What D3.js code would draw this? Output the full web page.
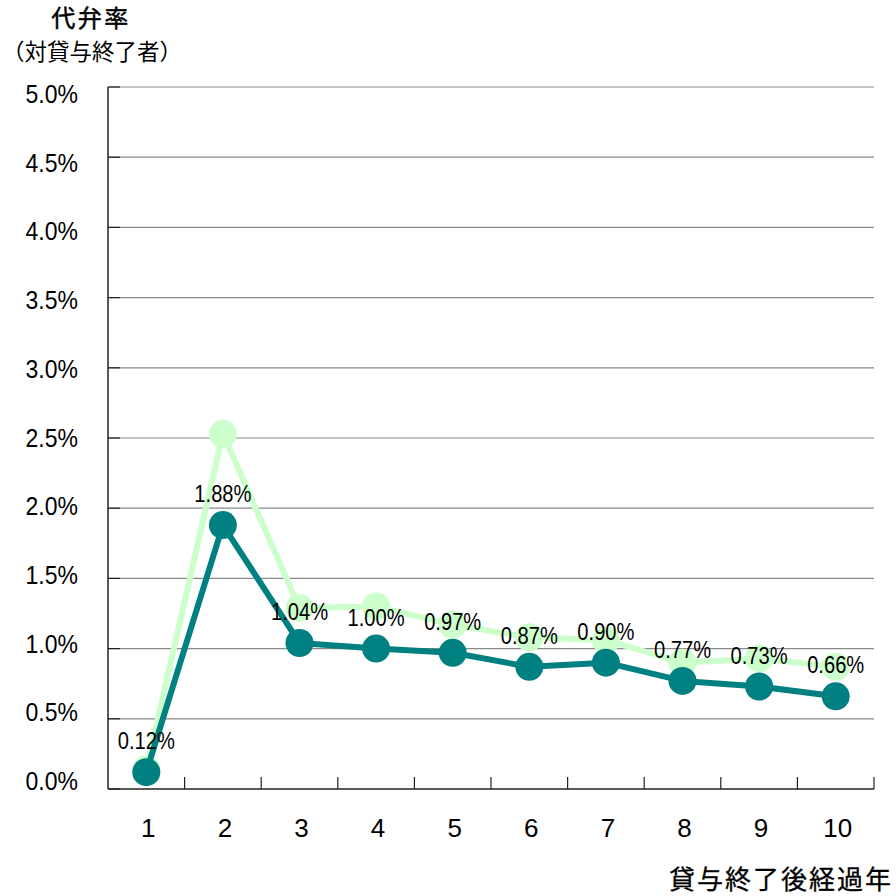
<!DOCTYPE html>
<html><head><meta charset="utf-8">
<script src="https://cdn.jsdelivr.net/npm/d3@7"></script>
<style>
html,body{margin:0;padding:0;background:#fff;}
svg{display:block;}
</style></head>
<body>
<svg id="c" width="896" height="896"></svg>
<script>
const categories = ["1","2","3","4","5","6","7","8","9","10"];
const rateOverall = [0.14, 2.53, 1.29, 1.30, 1.17, 1.08, 1.06, 0.90, 0.93, 0.87];
const rateMain = [0.12, 1.88, 1.04, 1.00, 0.97, 0.87, 0.90, 0.77, 0.73, 0.66];
const yTicks = [0, 0.5, 1.0, 1.5, 2.0, 2.5, 3.0, 3.5, 4.0, 4.5, 5.0];
const titleMain = "代弁率";
const titleSub = "（対貸与終了者）";
const xTitle = "貸与終了後経過年";

const svg = d3.select("#c");
const L = 108, R = 874, T = 87, B = 789;
const x = d3.scaleBand().domain(categories).range([L, R]);
const y = d3.scaleLinear().domain([0, 5]).range([B, T]);
const yLab = d3.scaleLinear().domain([0, 5]).range([B - 8, T + 7]);
const cx = d => x(d) + x.bandwidth() / 2;
const latin = "'Liberation Sans', Arial, sans-serif";
const cjk = "'Noto Sans CJK JP', sans-serif";

// gridlines
svg.append("g").selectAll("line").data(yTicks.filter(v => v > 0)).join("line")
  .attr("x1", L).attr("x2", R).attr("y1", d => y(d)).attr("y2", d => y(d))
  .attr("stroke", "#8a8a8a").attr("stroke-width", 1.2);

// y ticks (inward)
svg.append("g").selectAll("line").data(yTicks).join("line")
  .attr("x1", L).attr("x2", L + 12).attr("y1", d => y(d)).attr("y2", d => y(d))
  .attr("stroke", "#222").attr("stroke-width", 1.2);

// x ticks at band boundaries (inward)
const bounds = categories.map(c => x(c)).concat([R]).slice(1);
svg.append("g").selectAll("line").data(bounds).join("line")
  .attr("x1", d => d).attr("x2", d => d).attr("y1", B).attr("y2", B - 12)
  .attr("stroke", "#222").attr("stroke-width", 1.2);

// axes lines
svg.append("line").attr("x1", L).attr("x2", L).attr("y1", T).attr("y2", B)
  .attr("stroke", "#222").attr("stroke-width", 1.5);
svg.append("line").attr("x1", L).attr("x2", R).attr("y1", B).attr("y2", B)
  .attr("stroke", "#222").attr("stroke-width", 1.5);

// y labels (slightly condensed)
svg.append("g").selectAll("text").data(yTicks).join("text")
  .attr("transform", d => `translate(78,${yLab(d)}) scale(0.92,1)`)
  .attr("dy", "0.36em")
  .attr("text-anchor", "end").attr("font-family", latin).attr("font-size", 25)
  .attr("fill", "#000").text(d => d.toFixed(1) + "%");

// x labels
svg.append("g").selectAll("text").data(categories).join("text")
  .attr("x", d => cx(d) + 2).attr("y", 828).attr("dy", "0.36em")
  .attr("text-anchor", "middle").attr("font-family", latin).attr("font-size", 26)
  .attr("fill", "#000").text(d => d);

// series
const line = d3.line().x((d, i) => cx(categories[i])).y(d => y(d));
function drawSeries(vals, color) {
  const g = svg.append("g");
  g.append("path").datum(vals).attr("d", line).attr("fill", "none")
    .attr("stroke", color).attr("stroke-width", 6).attr("stroke-linejoin", "round");
  g.selectAll("circle").data(vals).join("circle")
    .attr("cx", (d, i) => cx(categories[i])).attr("cy", d => y(d)).attr("r", 14)
    .attr("fill", color);
}
drawSeries(rateOverall, "#ccffcc");
drawSeries(rateMain, "#008080");

// data labels (condensed)
svg.append("g").selectAll("text").data(rateMain).join("text")
  .attr("transform", (d, i) => `translate(${cx(categories[i])},${y(d) - 23}) scale(0.84,1)`)
  .attr("text-anchor", "middle").attr("font-family", latin).attr("font-size", 24)
  .attr("fill", "#000").text(d => d.toFixed(2) + "%");

// titles
svg.append("text").attr("x", 91).attr("y", 27).attr("text-anchor", "middle")
  .attr("font-family", cjk).attr("font-size", 24)
  .attr("stroke", "#000").attr("stroke-width", 0.5)
  .attr("letter-spacing", 2.5).text(titleMain);
svg.append("text").attr("x", 92).attr("y", 60).attr("text-anchor", "middle")
  .attr("font-family", cjk).attr("font-size", 22.5).text(titleSub);
svg.append("text").attr("x", 893).attr("y", 889).attr("text-anchor", "end")
  .attr("font-family", cjk).attr("font-size", 26)
  .attr("stroke", "#000").attr("stroke-width", 0.3)
  .attr("letter-spacing", 2).text(xTitle);
</script>
</body></html>
